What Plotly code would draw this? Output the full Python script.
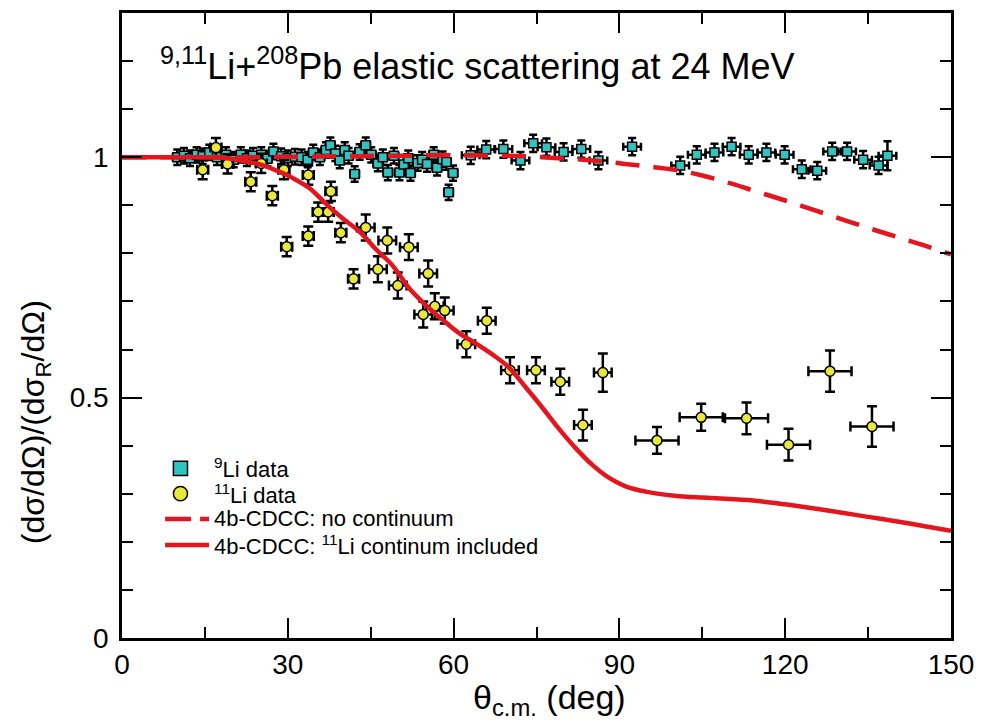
import plotly.graph_objects as go

# 9Li + 208Pb elastic data, ratio to Rutherford
li9_theta = [10.0, 11.2, 12.3, 13.5, 14.6, 15.8, 17.2, 18.8, 20.2, 21.5, 22.6, 23.7,
             25.2, 26.3, 27.4, 28.8, 30.0, 31.3, 32.5, 33.6, 34.6, 35.8, 36.9, 37.7,
             38.6, 39.4, 40.3, 41.0, 42.1, 43.0, 44.1, 45.1, 46.3, 47.2, 48.1, 49.2,
             50.2, 51.0, 51.8, 52.2, 53.5, 54.3, 55.2, 56.4, 57.0, 58.0, 58.7, 59.1,
             59.9, 63.1, 65.9, 69.0, 72.1, 74.4, 76.8, 79.9, 83.1, 86.2, 92.3, 101.0,
             104.0, 107.2, 110.3, 113.4, 116.6, 119.9, 123.0, 125.8, 128.5, 131.2,
             134.1, 136.9, 138.5]
li9_ratio = [1.000, 1.003, 0.998, 1.005, 1.002, 1.010, 1.000, 1.005, 0.995, 1.005, 0.998, 1.003,
             1.005, 0.997, 1.012, 1.002, 0.998, 1.001, 1.000, 0.995, 1.010, 1.000, 1.015, 1.025,
             1.008, 0.993, 1.015, 1.003, 0.965, 1.011, 1.025, 1.005, 0.987, 1.000, 0.968, 1.003,
             0.968, 0.985, 0.998, 0.967, 0.988, 0.995, 0.986, 1.005, 0.978, 0.996, 0.990, 0.927,
             0.967, 1.004, 1.016, 1.017, 0.993, 1.029, 1.021, 1.011, 1.017, 0.993, 1.022, 0.983,
             1.005, 1.010, 1.022, 1.005, 1.010, 1.005, 0.975, 0.972, 1.012, 1.012,
             0.995, 0.983, 1.003]
li9_dtheta = [0.8] * 49 + [1.6] * 24
li9_dratio = [0.016] * 49 + [0.018] * 23 + [0.03]

# 11Li + 208Pb elastic data, ratio to Rutherford
li11_theta = [14.6, 17.0, 19.1, 23.3, 25.2, 27.2, 29.3, 33.7, 37.8, 35.5, 37.3, 33.7,
              29.8, 39.6, 41.9, 44.1, 48.0, 51.9, 46.3, 49.9, 55.4, 54.5, 56.6, 58.4,
              66.0, 62.3, 70.2, 74.9, 79.3, 87.0, 83.4, 96.8, 104.8, 113.0, 120.6,
              128.1, 135.7]
li11_ratio = [0.974, 1.020, 0.986, 0.949, 0.987, 0.920, 0.974, 0.963, 0.929, 0.886, 0.886, 0.836,
              0.814, 0.843, 0.747, 0.854, 0.827, 0.813, 0.767, 0.733, 0.758, 0.673, 0.690, 0.681,
              0.660, 0.611, 0.557, 0.557, 0.533, 0.552, 0.443, 0.411, 0.459, 0.457, 0.402,
              0.555, 0.440]
li11_dtheta = [1.0] * 15 + [1.6] * 16 + [3.9] * 6
li11_dratio = [0.02] * 15 + [0.027] * 14 + [0.04, 0.032, 0.028, 0.028, 0.033, 0.033, 0.043, 0.042]

# 4b-CDCC calculations
cdcc_theta = [0, 10, 15, 19, 22, 25, 28, 31, 34, 37, 40, 43, 46, 49, 52, 55, 58, 61, 64,
              67, 70, 73, 76, 79, 82, 85, 88, 91, 95, 100, 105, 110, 115, 120, 125, 130,
              135, 140, 145, 150]
no_continuum = [1.000, 1.000, 1.000, 1.000, 1.000, 1.000, 1.001, 1.001, 1.001, 1.002, 1.002,
                1.002, 1.003, 1.003, 1.003, 1.004, 1.004, 1.004, 1.004, 1.003, 1.003, 1.002,
                1.000, 0.998, 0.996, 0.993, 0.990, 0.986, 0.981, 0.974, 0.962, 0.946, 0.928,
                0.910, 0.891, 0.872, 0.853, 0.835, 0.817, 0.798]
with_continuum = [1.000, 1.000, 1.000, 0.998, 0.992, 0.985, 0.972, 0.956, 0.935, 0.902, 0.872,
                  0.845, 0.808, 0.774, 0.727, 0.692, 0.662, 0.634, 0.613, 0.590, 0.563, 0.522,
                  0.480, 0.436, 0.396, 0.361, 0.334, 0.316, 0.304, 0.296, 0.292, 0.289, 0.285,
                  0.278, 0.270, 0.261, 0.252, 0.243, 0.233, 0.223]

legend_labels = ["<sup>9</sup>Li data", "<sup>11</sup>Li data", "4b-CDCC: no continuum",
                 "4b-CDCC: <sup>11</sup>Li continum included"]

RED = "#e5151d"
CYAN = "#31c3c0"
YELLOW = "#e8e83a"
FONT = "Liberation Sans, Arial, sans-serif"

fig = go.Figure()

fig.add_trace(go.Scatter(
    x=li9_theta, y=li9_ratio, mode="markers", name=legend_labels[0],
    marker=dict(symbol="square", size=9, color=CYAN, line=dict(color="black", width=1.5)),
    error_x=dict(type="data", array=li9_dtheta, color="black", thickness=2.5, width=4),
    error_y=dict(type="data", array=li9_dratio, color="black", thickness=2.5, width=4),
))
fig.add_trace(go.Scatter(
    x=li11_theta, y=li11_ratio, mode="markers", name=legend_labels[1],
    marker=dict(symbol="circle", size=10, color=YELLOW, line=dict(color="black", width=1.5)),
    error_x=dict(type="data", array=li11_dtheta, color="black", thickness=2.5, width=5),
    error_y=dict(type="data", array=li11_dratio, color="black", thickness=2.5, width=5),
))
fig.add_trace(go.Scatter(
    x=cdcc_theta, y=no_continuum, mode="lines", name=legend_labels[2],
    line=dict(color=RED, width=4.5, dash="24px,14px", shape="spline"),
))
fig.add_trace(go.Scatter(
    x=cdcc_theta, y=with_continuum, mode="lines", name=legend_labels[3],
    line=dict(color=RED, width=4.5, shape="spline"),
))

# Key block in the lower-left corner of the frame (paper coordinates)
key_x0, key_x1 = 0.052, 0.105       # swatch span
key_text_x = 0.109
key_rows = [0.2715, 0.2310, 0.1905, 0.1490]
mx, mw, mh = 0.0705, 0.0085, 0.0115  # symbol centre and half sizes
shapes = [
    dict(type="rect", xref="paper", yref="paper",
         x0=mx - mw, x1=mx + mw, y0=key_rows[0] - mh, y1=key_rows[0] + mh,
         fillcolor=CYAN, line=dict(color="black", width=1.5)),
    dict(type="circle", xref="paper", yref="paper",
         x0=mx - mw, x1=mx + mw, y0=key_rows[1] - mh, y1=key_rows[1] + mh,
         fillcolor=YELLOW, line=dict(color="black", width=1.5)),
    dict(type="line", xref="paper", yref="paper",
         x0=key_x0, x1=key_x1, y0=key_rows[2], y1=key_rows[2],
         line=dict(color=RED, width=4.5, dash="26px,9px")),
    dict(type="line", xref="paper", yref="paper",
         x0=key_x0, x1=key_x1, y0=key_rows[3], y1=key_rows[3],
         line=dict(color=RED, width=4.5)),
]
annotations = [
    dict(text=lab, xref="paper", yref="paper", x=key_text_x, y=yr,
         xanchor="left", yanchor="middle", showarrow=False,
         font=dict(family=FONT, size=22, color="black"))
    for lab, yr in zip(legend_labels, key_rows)
]
annotations += [
    dict(text="<sup>9,11</sup>Li+<sup>208</sup>Pb elastic scattering at 24 MeV",
         xref="paper", yref="paper", x=0.043, y=0.958, xanchor="left", yanchor="top",
         showarrow=False, font=dict(family=FONT, size=36, color="black")),
    dict(text="(dσ/dΩ)/(dσ<sub>R</sub>/dΩ)", textangle=-90,
         xref="paper", yref="paper", x=-0.104, y=0.345, xanchor="center", yanchor="middle",
         showarrow=False, font=dict(family=FONT, size=32, color="black")),
    dict(text="θ<sub>c.m.</sub> (deg)",
         xref="paper", yref="paper", x=0.516, y=-0.098, xanchor="center", yanchor="middle",
         showarrow=False, font=dict(family=FONT, size=34, color="black")),
]

axis_common = dict(
    showline=True, linecolor="black", linewidth=2.5, mirror="allticks",
    ticks="inside", ticklen=20, tickwidth=2, tickcolor="black",
    showgrid=False, zeroline=False,
    tickfont=dict(family=FONT, size=28, color="black"),
)

fig.update_layout(
    width=984, height=727,
    margin=dict(l=122, r=26, t=10, b=89),
    paper_bgcolor="white", plot_bgcolor="white",
    font=dict(family=FONT, color="black"),
    showlegend=False,
    xaxis=dict(
        range=[0, 150], tickvals=[0, 30, 60, 90, 120, 150],
        minor=dict(dtick=15, ticklen=11, tickwidth=2, ticks="inside", tickcolor="black"),
        **axis_common,
    ),
    yaxis=dict(
        range=[0, 1.3], tickvals=[0, 0.5, 1], ticktext=["0", "0.5", "1"],
        minor=dict(dtick=0.1, ticklen=11, tickwidth=2, ticks="inside", tickcolor="black"),
        ticklabelstandoff=5,
        **axis_common,
    ),
    shapes=shapes,
    annotations=annotations,
)

fig.write_html("out.html")
